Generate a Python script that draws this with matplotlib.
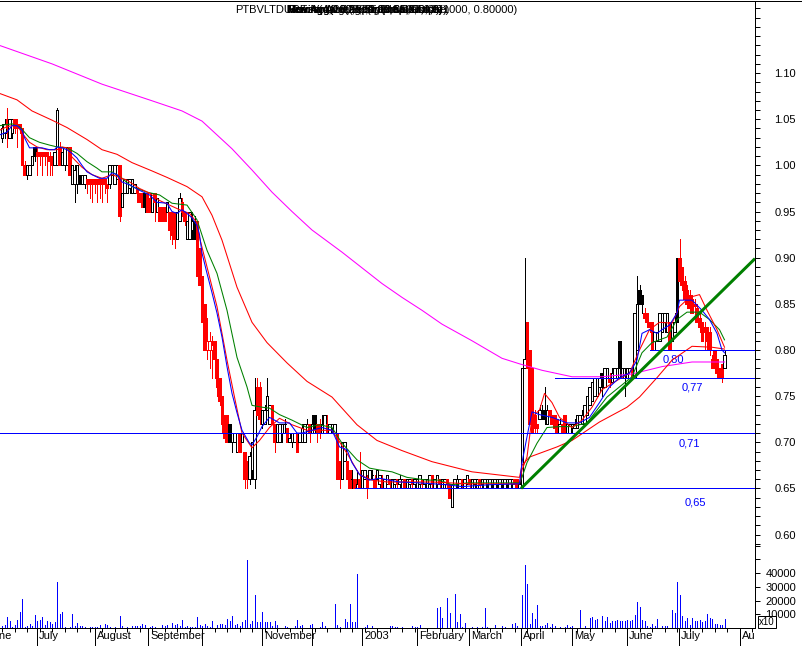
import matplotlib
matplotlib.use("Agg")
import numpy as np
import matplotlib.pyplot as plt
from matplotlib.collections import PatchCollection
from matplotlib.lines import Line2D
from matplotlib.patches import Rectangle
from matplotlib.ticker import FixedLocator, MultipleLocator
from matplotlib.transforms import Bbox, TransformedBbox, blended_transform_factory

plt.rcParams["font.family"] = ["Liberation Sans", "DejaVu Sans"]

# ---------------------------------------------------------------- data --
# daily bars, June 2002 -> July 2003 (index = trading day)
opens = [
    1.030, 1.035, 1.050, 1.030, 1.035, 1.050, 1.045, 1.045, 1.040, 1.000,
    0.990, 0.990, 1.000, 1.020, 1.015, 1.015, 1.015, 1.015, 1.015, 1.010,
    1.010, 1.000, 1.000, 1.020, 1.000, 1.000, 1.000, 1.020, 0.980, 0.980,
    0.980, 0.990, 0.980, 0.980, 0.985, 0.985, 0.985, 0.985, 0.985, 0.985,
    0.985, 0.985, 0.980, 0.980, 0.990, 0.980, 0.985, 1.000, 0.955, 0.970,
    0.970, 0.975, 0.970, 0.970, 0.975, 0.970, 0.970, 0.970, 0.970, 0.965,
    0.950, 0.970, 0.950, 0.955, 0.950, 0.955, 0.950, 0.950, 0.945, 0.950,
    0.920, 0.940, 0.960, 0.950, 0.920, 0.920, 0.930, 0.940, 0.940, 0.910,
    0.880, 0.850, 0.800, 0.800, 0.800, 0.810, 0.790, 0.770, 0.750, 0.730,
    0.730, 0.720, 0.700, 0.700, 0.690, 0.710, 0.700, 0.690, 0.680, 0.660,
    0.670, 0.660, 0.760, 0.760, 0.720, 0.720, 0.735, 0.720, 0.740, 0.720,
    0.700, 0.700, 0.710, 0.720, 0.715, 0.700, 0.700, 0.700, 0.710, 0.700,
    0.700, 0.700, 0.710, 0.720, 0.710, 0.730, 0.720, 0.720, 0.710, 0.710,
    0.720, 0.710, 0.715, 0.710, 0.710, 0.680, 0.660, 0.680, 0.680, 0.670,
    0.660, 0.660, 0.650, 0.660, 0.650, 0.660, 0.660, 0.660, 0.665, 0.660,
    0.660, 0.655, 0.660, 0.650, 0.655, 0.660, 0.650, 0.655, 0.660, 0.655,
    0.650, 0.660, 0.650, 0.655, 0.660, 0.655, 0.650, 0.655, 0.660, 0.655,
    0.650, 0.655, 0.665, 0.650, 0.655, 0.660, 0.650, 0.655, 0.660, 0.655,
    0.630, 0.650, 0.655, 0.650, 0.660, 0.650, 0.655, 0.660, 0.650, 0.655,
    0.650, 0.660, 0.655, 0.650, 0.655, 0.650, 0.655, 0.650, 0.655, 0.650,
    0.655, 0.650, 0.655, 0.650, 0.655, 0.660, 0.660, 0.650, 0.650, 0.780,
    0.830, 0.800, 0.780, 0.730, 0.720, 0.725, 0.735, 0.735, 0.720, 0.735,
    0.730, 0.730, 0.725, 0.710, 0.720, 0.730, 0.710, 0.710, 0.715, 0.715,
    0.715, 0.720, 0.720, 0.720, 0.730, 0.740, 0.745, 0.750, 0.750, 0.760,
    0.775, 0.760, 0.770, 0.770, 0.765, 0.770, 0.770, 0.810, 0.770, 0.780,
    0.770, 0.770, 0.780, 0.770, 0.800, 0.865, 0.860, 0.840, 0.840, 0.830,
    0.830, 0.810, 0.810, 0.810, 0.820, 0.830, 0.820, 0.830, 0.810, 0.820,
    0.900, 0.900, 0.890, 0.875, 0.865, 0.860, 0.855, 0.850, 0.845, 0.835,
    0.830, 0.825, 0.825, 0.820, 0.790, 0.800, 0.790, 0.780, 0.785, 0.780,
]
highs = [
    1.045, 1.050, 1.062, 1.050, 1.050, 1.050, 1.050, 1.045, 1.040, 1.005,
    1.000, 1.000, 1.010, 1.020, 1.020, 1.015, 1.015, 1.015, 1.015, 1.015,
    1.010, 1.015, 1.062, 1.025, 1.015, 1.020, 1.020, 1.020, 1.000, 1.000,
    1.000, 0.990, 0.990, 0.990, 0.985, 0.985, 0.985, 0.985, 0.985, 0.985,
    0.985, 0.985, 0.980, 1.000, 1.000, 1.000, 1.000, 1.000, 0.970, 0.985,
    0.985, 0.985, 0.985, 0.980, 0.975, 0.970, 0.970, 0.970, 0.970, 0.970,
    0.970, 0.970, 0.965, 0.955, 0.955, 0.955, 0.960, 0.950, 0.950, 0.950,
    0.950, 0.970, 0.965, 0.950, 0.940, 0.950, 0.950, 0.945, 0.940, 0.910,
    0.880, 0.850, 0.835, 0.820, 0.815, 0.810, 0.790, 0.770, 0.750, 0.730,
    0.730, 0.720, 0.710, 0.710, 0.710, 0.710, 0.710, 0.690, 0.680, 0.690,
    0.700, 0.770, 0.770, 0.765, 0.735, 0.740, 0.770, 0.740, 0.740, 0.720,
    0.720, 0.720, 0.720, 0.725, 0.715, 0.710, 0.710, 0.710, 0.710, 0.710,
    0.720, 0.720, 0.725, 0.720, 0.730, 0.730, 0.720, 0.725, 0.730, 0.730,
    0.730, 0.720, 0.720, 0.720, 0.710, 0.680, 0.700, 0.700, 0.680, 0.670,
    0.670, 0.660, 0.670, 0.690, 0.670, 0.670, 0.665, 0.670, 0.670, 0.665,
    0.670, 0.665, 0.665, 0.660, 0.665, 0.660, 0.660, 0.660, 0.660, 0.665,
    0.660, 0.660, 0.660, 0.660, 0.660, 0.660, 0.660, 0.665, 0.660, 0.660,
    0.660, 0.665, 0.665, 0.660, 0.665, 0.660, 0.660, 0.660, 0.660, 0.655,
    0.655, 0.660, 0.665, 0.660, 0.660, 0.660, 0.665, 0.660, 0.660, 0.660,
    0.660, 0.660, 0.660, 0.660, 0.660, 0.660, 0.660, 0.660, 0.660, 0.660,
    0.660, 0.660, 0.660, 0.660, 0.660, 0.660, 0.660, 0.660, 0.780, 0.900,
    0.830, 0.800, 0.780, 0.735, 0.720, 0.740, 0.740, 0.760, 0.740, 0.735,
    0.730, 0.730, 0.725, 0.725, 0.720, 0.730, 0.720, 0.720, 0.720, 0.725,
    0.730, 0.730, 0.735, 0.740, 0.750, 0.760, 0.765, 0.770, 0.770, 0.775,
    0.775, 0.780, 0.780, 0.775, 0.780, 0.780, 0.780, 0.810, 0.780, 0.780,
    0.780, 0.780, 0.780, 0.840, 0.880, 0.870, 0.860, 0.845, 0.840, 0.830,
    0.830, 0.820, 0.820, 0.840, 0.840, 0.840, 0.840, 0.830, 0.830, 0.840,
    0.900, 0.920, 0.890, 0.880, 0.870, 0.865, 0.860, 0.855, 0.850, 0.840,
    0.830, 0.830, 0.825, 0.825, 0.795, 0.800, 0.790, 0.780, 0.785, 0.800,
]
lows = [
    1.025, 1.030, 1.020, 1.030, 1.030, 1.035, 1.020, 1.035, 1.000, 0.990,
    0.985, 0.990, 1.000, 1.005, 0.990, 1.000, 0.990, 1.000, 0.990, 0.990,
    0.990, 1.000, 1.000, 1.000, 1.000, 0.995, 1.000, 0.990, 0.980, 0.960,
    0.970, 0.980, 0.980, 0.975, 0.970, 0.965, 0.960, 0.970, 0.960, 0.965,
    0.960, 0.970, 0.960, 0.975, 0.990, 0.980, 0.985, 0.940, 0.955, 0.970,
    0.970, 0.970, 0.970, 0.970, 0.960, 0.960, 0.955, 0.950, 0.950, 0.950,
    0.950, 0.940, 0.950, 0.940, 0.940, 0.940, 0.950, 0.920, 0.915, 0.910,
    0.920, 0.940, 0.945, 0.935, 0.920, 0.920, 0.920, 0.920, 0.880, 0.870,
    0.830, 0.800, 0.790, 0.780, 0.770, 0.770, 0.750, 0.740, 0.710, 0.700,
    0.700, 0.700, 0.690, 0.700, 0.690, 0.690, 0.700, 0.650, 0.650, 0.655,
    0.660, 0.650, 0.730, 0.720, 0.715, 0.720, 0.735, 0.720, 0.720, 0.690,
    0.700, 0.700, 0.700, 0.710, 0.700, 0.700, 0.695, 0.700, 0.690, 0.700,
    0.700, 0.700, 0.710, 0.700, 0.710, 0.710, 0.700, 0.705, 0.710, 0.710,
    0.710, 0.710, 0.710, 0.710, 0.660, 0.650, 0.660, 0.680, 0.660, 0.650,
    0.650, 0.650, 0.650, 0.650, 0.650, 0.660, 0.640, 0.660, 0.660, 0.650,
    0.660, 0.650, 0.650, 0.650, 0.655, 0.650, 0.650, 0.650, 0.650, 0.650,
    0.650, 0.650, 0.650, 0.650, 0.650, 0.650, 0.650, 0.650, 0.650, 0.650,
    0.650, 0.650, 0.650, 0.650, 0.650, 0.650, 0.650, 0.650, 0.650, 0.640,
    0.630, 0.650, 0.650, 0.650, 0.650, 0.650, 0.655, 0.650, 0.650, 0.650,
    0.650, 0.650, 0.650, 0.650, 0.650, 0.650, 0.650, 0.650, 0.650, 0.650,
    0.650, 0.650, 0.650, 0.650, 0.650, 0.650, 0.650, 0.650, 0.650, 0.780,
    0.780, 0.720, 0.710, 0.710, 0.710, 0.725, 0.725, 0.720, 0.720, 0.720,
    0.720, 0.710, 0.710, 0.710, 0.710, 0.710, 0.710, 0.710, 0.710, 0.715,
    0.715, 0.720, 0.720, 0.720, 0.730, 0.740, 0.745, 0.750, 0.750, 0.755,
    0.750, 0.760, 0.770, 0.760, 0.765, 0.770, 0.770, 0.770, 0.770, 0.750,
    0.770, 0.770, 0.770, 0.770, 0.800, 0.850, 0.840, 0.830, 0.825, 0.820,
    0.800, 0.800, 0.810, 0.810, 0.820, 0.820, 0.820, 0.800, 0.810, 0.820,
    0.830, 0.870, 0.865, 0.850, 0.845, 0.840, 0.840, 0.830, 0.830, 0.820,
    0.810, 0.800, 0.800, 0.795, 0.780, 0.775, 0.770, 0.770, 0.765, 0.780,
]
closes = [
    1.040, 1.045, 1.040, 1.050, 1.050, 1.040, 1.040, 1.040, 1.000, 0.990,
    1.000, 1.000, 1.010, 1.010, 1.010, 1.010, 1.010, 1.010, 1.010, 1.005,
    1.000, 1.015, 1.060, 1.000, 1.015, 1.020, 1.020, 0.990, 1.000, 0.995,
    1.000, 0.980, 0.990, 0.990, 0.980, 0.980, 0.980, 0.980, 0.980, 0.980,
    0.980, 0.980, 0.975, 1.000, 1.000, 1.000, 1.000, 0.945, 0.970, 0.985,
    0.985, 0.985, 0.985, 0.980, 0.970, 0.960, 0.955, 0.955, 0.950, 0.950,
    0.970, 0.960, 0.965, 0.940, 0.945, 0.940, 0.960, 0.930, 0.925, 0.920,
    0.950, 0.965, 0.950, 0.940, 0.940, 0.950, 0.940, 0.920, 0.880, 0.870,
    0.830, 0.800, 0.810, 0.810, 0.805, 0.790, 0.760, 0.745, 0.720, 0.705,
    0.700, 0.700, 0.710, 0.710, 0.710, 0.690, 0.710, 0.660, 0.660, 0.685,
    0.700, 0.735, 0.730, 0.725, 0.735, 0.735, 0.750, 0.740, 0.720, 0.700,
    0.720, 0.720, 0.720, 0.720, 0.700, 0.705, 0.710, 0.710, 0.690, 0.710,
    0.715, 0.720, 0.720, 0.710, 0.720, 0.715, 0.710, 0.710, 0.720, 0.730,
    0.710, 0.720, 0.720, 0.720, 0.660, 0.660, 0.700, 0.700, 0.660, 0.650,
    0.660, 0.650, 0.655, 0.650, 0.670, 0.670, 0.650, 0.670, 0.665, 0.650,
    0.670, 0.665, 0.650, 0.660, 0.665, 0.655, 0.660, 0.660, 0.655, 0.660,
    0.660, 0.650, 0.660, 0.660, 0.655, 0.660, 0.660, 0.665, 0.655, 0.660,
    0.660, 0.665, 0.655, 0.660, 0.665, 0.655, 0.660, 0.660, 0.655, 0.640,
    0.655, 0.660, 0.660, 0.660, 0.655, 0.660, 0.665, 0.655, 0.660, 0.660,
    0.660, 0.655, 0.660, 0.660, 0.660, 0.660, 0.660, 0.660, 0.660, 0.660,
    0.660, 0.660, 0.660, 0.660, 0.660, 0.655, 0.650, 0.655, 0.780, 0.790,
    0.780, 0.720, 0.710, 0.715, 0.715, 0.735, 0.725, 0.725, 0.735, 0.730,
    0.720, 0.715, 0.710, 0.720, 0.710, 0.710, 0.720, 0.720, 0.720, 0.720,
    0.730, 0.730, 0.730, 0.740, 0.750, 0.760, 0.765, 0.770, 0.770, 0.770,
    0.770, 0.780, 0.780, 0.765, 0.775, 0.780, 0.780, 0.780, 0.780, 0.780,
    0.780, 0.780, 0.770, 0.840, 0.850, 0.850, 0.850, 0.835, 0.830, 0.825,
    0.800, 0.820, 0.820, 0.840, 0.840, 0.840, 0.840, 0.800, 0.830, 0.830,
    0.830, 0.875, 0.870, 0.855, 0.850, 0.845, 0.840, 0.848, 0.830, 0.825,
    0.810, 0.820, 0.810, 0.800, 0.780, 0.780, 0.775, 0.770, 0.770, 0.795,
]
# k = black bar, r = red bar
candle_colors = (
    "kkrkkrrrrr" "kkkkrrrrrr" "rkkrkkkrkk" "kkkkrrrrrr" "rrrkkkkrkk"
    "kkkkrrrkrr" "krkrrrkrrr" "kkrrkkkkrr" "rrrrrrrrrr" "rkkkkrkrrk"
    "kkrrkkkkrr" "kkkkrkkkrk" "kkkrkkrrkk" "rkkkrrkkrr" "krkrkkrkkr"
    "kkrkkrkkrk" "krkkrkkkrk" "kkrkkrkkrr" "kkkkrkkrkk" "krkkkkkkkk"
    "kkkkkrrkkk" "rrrrrkkkkr" "rrrkrrkkkk" "kkkkkkkkkk" "kkkrkkkkkk"
    "kkrkkkkrrr" "rkkkkkkrkk" "krrrrrrrrr" "rrrrrrrrrk"
)
volumes = [
    1500, 2500, 7800, 4800, 800, 2500, 6100, 11400, 21400, 800,
    1500, 3200, 1500, 9700, 4800, 6100, 8300, 2500, 5300, 4100,
    3200, 4100, 33300, 10500, 11400, 800, 0, 800, 10500, 1500,
    3600, 1500, 1500, 1000, 0, 800, 800, 800, 800, 2500,
    0, 3200, 2500, 800, 0, 800, 0, 9100, 1500, 0,
    800, 0, 1500, 1500, 1500, 1500, 3200, 2500, 0, 800,
    1500, 800, 0, 0, 2500, 1500, 2500, 0, 3600, 2500,
    3200, 1500, 6100, 800, 1500, 800, 800, 800, 8000, 2500,
    1500, 3200, 1500, 800, 5300, 0, 2500, 3200, 3200, 2500,
    6800, 5300, 9100, 2500, 3200, 1500, 4100, 6100, 49600, 3200,
    5300, 24100, 4100, 4100, 11900, 4100, 4100, 4100, 1500, 5300,
    2500, 0, 0, 1500, 800, 0, 0, 1500, 6100, 1500,
    2500, 0, 0, 2500, 3200, 0, 0, 800, 4100, 1500,
    0, 0, 0, 17500, 2500, 800, 0, 6800, 4100, 17500,
    4500, 4500, 39400, 0, 0, 800, 2500, 0, 1500, 0,
    0, 0, 0, 0, 0, 1500, 1500, 800, 800, 0,
    800, 0, 0, 0, 1500, 1000, 800, 2500, 0, 0,
    0, 0, 0, 0, 14600, 15300, 7500, 0, 21900, 11000,
    0, 24800, 4500, 10500, 800, 3900, 0, 0, 800, 0,
    800, 0, 800, 14600, 800, 0, 0, 2500, 0, 0,
    1500, 800, 0, 0, 3200, 3900, 1500, 0, 24100, 46000,
    32100, 3200, 11000, 6800, 16800, 1500, 1500, 2500, 3900, 800,
    3200, 1500, 0, 800, 0, 800, 2500, 800, 1500, 0,
    0, 13400, 0, 1500, 0, 7500, 8300, 6100, 6800, 0,
    9100, 5300, 8300, 3900, 5300, 5300, 6100, 5300, 5300, 5300,
    6100, 5300, 6100, 9700, 19000, 15300, 6100, 5300, 1500, 800,
    3200, 1500, 6800, 0, 1500, 1500, 1500, 0, 13400, 11000,
    33600, 24100, 9100, 5300, 7500, 2500, 7500, 5300, 5300, 6100,
    4500, 5300, 10500, 7500, 6800, 3200, 3200, 2500, 2500, 6800,
]

# moving averages (bar index, value)
blue_x = [-1, 2, 4, 6, 8, 9, 11, 14, 16, 19, 21, 22, 24, 26, 28, 30, 32, 34, 36, 39,
          42, 44, 46, 48, 51, 55, 59, 62, 66, 68, 70, 72, 74, 76, 78, 79, 80, 82, 84, 86,
          88, 90, 92, 94, 96, 99, 100, 102, 104, 107, 111, 115, 118, 120, 124, 128, 132,
          135, 138, 140, 143, 147, 151, 155, 159, 167, 178, 184, 195, 207, 208, 210, 212,
          215, 220, 226, 231, 235, 239, 243, 247, 251, 254, 256, 259, 262, 264, 267, 270,
          271, 276, 280, 283, 286, 288, 289]
blue_y = [1.033, 1.036, 1.043, 1.043, 1.038, 1.030, 1.019, 1.019, 1.019, 1.017, 1.017,
          1.020, 1.019, 1.017, 1.013, 1.008, 1.000, 0.993, 0.990, 0.986, 0.986, 0.992,
          0.990, 0.982, 0.979, 0.973, 0.968, 0.960, 0.959, 0.950, 0.948, 0.952, 0.948,
          0.943, 0.935, 0.925, 0.905, 0.883, 0.862, 0.840, 0.814, 0.782, 0.753, 0.732,
          0.713, 0.699, 0.697, 0.706, 0.717, 0.727, 0.721, 0.721, 0.710, 0.710, 0.713,
          0.716, 0.713, 0.695, 0.692, 0.678, 0.665, 0.659, 0.661, 0.659, 0.657, 0.656,
          0.654, 0.652, 0.654, 0.655, 0.678, 0.706, 0.733, 0.730, 0.727, 0.721, 0.721,
          0.727, 0.743, 0.760, 0.770, 0.775, 0.789, 0.818, 0.822, 0.818, 0.822, 0.827,
          0.840, 0.854, 0.854, 0.843, 0.833, 0.818, 0.800, 0.797]

red_x = [-1, 2, 6, 8, 11, 14, 18, 22, 24, 26, 28, 32, 36, 40, 44, 47, 50, 55, 59, 63,
         67, 71, 75, 78, 79, 82, 86, 90, 93, 96, 100, 103, 107, 111, 116, 122, 127, 132,
         138, 143, 148, 154, 159, 172, 187, 207, 208, 210, 212, 215, 217, 220, 223, 228,
         232, 236, 240, 246, 251, 255, 259, 263, 268, 271, 275, 279, 282, 286, 289]
red_y = [1.038, 1.042, 1.044, 1.035, 1.025, 1.020, 1.017, 1.017, 1.020, 1.019, 1.009,
         0.998, 0.990, 0.986, 0.990, 0.987, 0.984, 0.975, 0.970, 0.962, 0.957, 0.952,
         0.948, 0.938, 0.922, 0.890, 0.847, 0.789, 0.749, 0.710, 0.694, 0.702, 0.716,
         0.726, 0.719, 0.713, 0.713, 0.713, 0.688, 0.665, 0.659, 0.657, 0.657, 0.657,
         0.655, 0.655, 0.670, 0.684, 0.727, 0.735, 0.753, 0.743, 0.727, 0.716, 0.724,
         0.738, 0.757, 0.767, 0.775, 0.800, 0.822, 0.830, 0.829, 0.847, 0.857, 0.860,
         0.843, 0.822, 0.803]

green_x = [-1, 4, 7, 11, 15, 19, 22, 26, 30, 34, 38, 40, 44, 48, 52, 58, 63, 68, 74, 78,
           82, 86, 90, 94, 98, 100, 104, 107, 111, 116, 122, 127, 132, 136, 142, 147, 151,
           156, 162, 170, 175, 180, 186, 195, 207, 208, 210, 214, 218, 223, 228, 234, 238,
           242, 247, 252, 256, 260, 266, 270, 274, 279, 283, 287, 289]
green_y = [1.043, 1.045, 1.042, 1.030, 1.025, 1.022, 1.020, 1.019, 1.013, 1.004, 0.997,
           0.993, 0.993, 0.986, 0.977, 0.971, 0.968, 0.959, 0.957, 0.941, 0.908, 0.883,
           0.843, 0.792, 0.760, 0.740, 0.738, 0.737, 0.730, 0.724, 0.716, 0.719, 0.716,
           0.699, 0.681, 0.672, 0.670, 0.668, 0.662, 0.659, 0.659, 0.654, 0.656, 0.656,
           0.656, 0.662, 0.678, 0.699, 0.716, 0.717, 0.717, 0.721, 0.735, 0.749, 0.760,
           0.771, 0.797, 0.808, 0.814, 0.833, 0.841, 0.841, 0.833, 0.822, 0.811]

slow_x = [-1, 6, 12, 20, 26, 34, 40, 46, 52, 60, 66, 74, 80, 84, 88, 94, 100, 106, 114,
          122, 132, 142, 150, 160, 172, 188, 207, 208, 211, 222, 228, 239, 250, 255, 262,
          268, 276, 284, 289]
slow_y = [1.078, 1.071, 1.059, 1.049, 1.041, 1.028, 1.017, 1.012, 1.003, 0.994, 0.987,
          0.977, 0.966, 0.946, 0.919, 0.868, 0.830, 0.808, 0.786, 0.766, 0.749, 0.719,
          0.702, 0.691, 0.679, 0.668, 0.662, 0.675, 0.684, 0.695, 0.702, 0.722, 0.738,
          0.749, 0.770, 0.789, 0.804, 0.803, 0.801]

long_x = [-1, 20, 40, 60, 72, 80, 86, 92, 100, 108, 116, 124, 136, 144, 152, 160, 168,
          176, 188, 200, 207, 216, 228, 240, 252, 264, 276, 289]
long_y = [1.130, 1.110, 1.088, 1.070, 1.059, 1.048, 1.033, 1.018, 0.995, 0.971, 0.950,
          0.930, 0.906, 0.889, 0.872, 0.857, 0.843, 0.828, 0.810, 0.791, 0.785, 0.778,
          0.771, 0.771, 0.774, 0.782, 0.787, 0.787]

# drawn studies
trend_x = [207.6, 301.2]
trend_y = [0.650, 0.899]
level_values = [0.80, 0.77, 0.71, 0.65]
level_start = [259, 221, -1, 141]
level_labels = ["0,80", "0,77", "0,71", "0,65"]
level_label_x = [264.4, 272.0, 270.8, 273.2]

month_pos = [-6.4, 14.0, 37.2, 58.4, 80.0, 104.0, 124.0, 144.0, 166.0, 186.8,
             207.6, 228.0, 250.0, 270.8, 295.2]
month_labels = ["June", "July", "August", "September", "", "November", "", "2003",
                "February", "March", "April", "May", "June", "July", "Aug"]

price_ticks = [0.60, 0.65, 0.70, 0.75, 0.80, 0.85, 0.90, 0.95, 1.00, 1.05, 1.10]
volume_ticks = [10000, 20000, 30000, 40000, 50000, 60000]
volume_tick_labels = ["10000", "20000", "30000", "40000", "", ""]

title_symbol = "PTBVLTDURE"
title_studies = ["Moving Average(5,Simple,Close)", "Risk Volume(8,30,Close,Simple)",
                 "Mov Avg(13,Exponential,Close)", "Moving Avg(21,Simple,Close,0)",
                 "Mov Avg(200,Simple,Close,4,6)", "Bands(4,0.7,1.8,1.90,16,07,03)",
                 "Horizontal Line Sty(0.65000,0.71000, 0.80000)"]

# ---------------------------------------------------------------- plot --
W, H = 802, 646
PX = 72 / 100.0  # one pixel in points
RED, BLUE, GREEN, MAG = "#ff0000", "#0000ff", "#008000", "#ff00ff"
XLIM = (-0.8, 301.2)
YLIM = (0.4988, 1.1781)

fig = plt.figure(figsize=(W / 100, H / 100), dpi=100)
ax = fig.add_axes([0, 18 / H, 755 / W, 627 / H])

n = len(closes)
xs = np.arange(n)
cols = [RED if c == "r" else "#000000" for c in candle_colors[:n]]

ax.vlines(xs, lows, highs, colors=cols, linewidth=PX, antialiased=False, zorder=2)
rects, faces = [], []
for i in range(n):
    o, c = opens[i], closes[i]
    rects.append(Rectangle((i - 0.42, min(o, c)), 0.84, abs(c - o)))
    faces.append(cols[i] if c < o else "white")
ax.add_collection(PatchCollection(rects, facecolors=faces, edgecolors=cols,
                                  linewidths=PX, antialiased=False, zorder=3))

for mx, my, mc in [(long_x, long_y, MAG), (slow_x, slow_y, RED), (green_x, green_y, GREEN),
                   (red_x, red_y, RED), (blue_x, blue_y, BLUE)]:
    ax.plot(mx, my, color=mc, linewidth=1.05 * PX, zorder=4)

ax.hlines(level_values, level_start, XLIM[1], colors=BLUE, linewidth=PX,
          antialiased=False, zorder=5)
for lv, lx, lt in zip(level_values, level_label_x, level_labels):
    dy = -14 if lv < 0.66 else -10
    ax.annotate(lt, (lx, lv), xytext=(0, dy), textcoords="offset pixels",
                color=BLUE, fontsize=8, ha="left", va="center")
ax.plot(trend_x, trend_y, color=GREEN, linewidth=3 * PX, solid_capstyle="butt", zorder=6)

# volume on its own scale, same box
ax2 = ax.twinx()
vx = [i for i in range(n) if volumes[i] > 0]
ax2.vlines(vx, 0, [volumes[i] for i in vx], colors=BLUE, linewidth=PX, antialiased=False)
ax2.set_ylim(0, 457664)

# limits last, so the twin axis cannot rescale the shared x axis
ax.set_xlim(*XLIM)
ax.set_ylim(*YLIM)

# ---- axes cosmetics
for a in (ax, ax2):
    for s in a.spines.values():
        s.set_visible(False)
for s in ("top", "right", "bottom"):
    ax.spines[s].set_visible(True)
    ax.spines[s].set_linewidth(PX)

ax.yaxis.tick_right()
ax.set_yticks(price_ticks)
ax.set_yticklabels([f"{v:.2f}" for v in price_ticks])
ax.yaxis.set_minor_locator(FixedLocator(np.round(np.arange(0.59, 1.175, 0.01), 2)))
ax.tick_params(axis="y", which="both", direction="out", length=5 * PX, width=PX,
               labelsize=8, pad=36 * PX)
ax2.set_yticks(volume_ticks)
ax2.set_yticklabels(volume_tick_labels)
ax2.tick_params(axis="y", direction="out", length=5 * PX, width=PX, labelsize=8,
                pad=36 * PX)
for a in (ax, ax2):
    for t in a.yaxis.get_major_ticks():
        t.label2.set_horizontalalignment("right")

ax.set_xticks(month_pos)
ax.set_xticklabels([])
ax.xaxis.set_minor_locator(MultipleLocator(5))
ax.tick_params(axis="x", which="major", direction="out", length=18 * PX, width=PX)
ax.tick_params(axis="x", which="minor", direction="out", length=4 * PX, width=PX)
ax.set_xlim(*XLIM)

clip = TransformedBbox(Bbox([[0, 0], [755 / W, 1]]), fig.transFigure)
trans = blended_transform_factory(ax.transData, ax.transAxes)
for p, lab in zip(month_pos, month_labels):
    t = ax.text(p + 0.8, -3 / 627, lab, transform=trans, ha="left", va="top", fontsize=8)
    t.set_clip_path(None)
    t.set_clip_box(clip)
    t.set_clip_on(True)

fig.add_artist(Line2D([755 / W, 1], [1 - 1 / H] * 2, color="black", linewidth=PX,
                      transform=fig.transFigure))
fig.text(759 / W, 1 - 622 / H, "x10", fontsize=7, ha="left", va="center",
         bbox=dict(boxstyle="square,pad=0.15", fc="white", ec="black", lw=PX))

# overlapping study names in the title strip (they overprint in the original)
fig.text(235 / W, 1 - 10 / H, title_symbol, fontsize=8, va="center")
for s in title_studies:
    fig.text(287 / W, 1 - 10 / H, s, fontsize=8, va="center")

fig.savefig("out.png", dpi=100, facecolor="white")
